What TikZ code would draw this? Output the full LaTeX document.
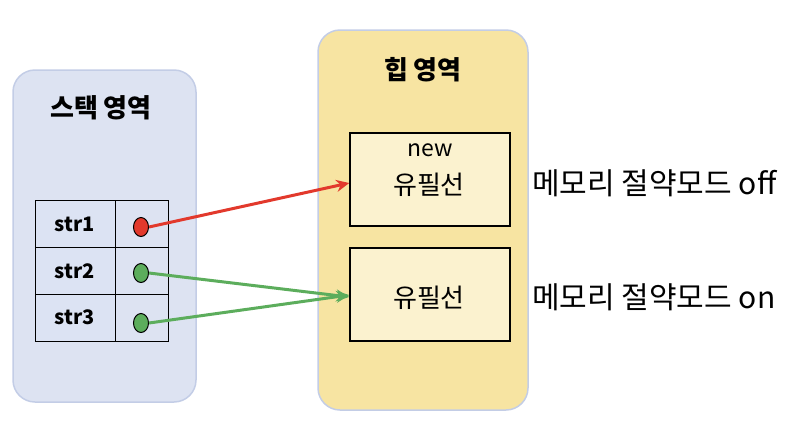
\documentclass[tikz,border=0pt]{standalone}
\usepackage{fontspec}
\setmainfont{Noto Sans CJK KR}
\usetikzlibrary{shapes.geometric,arrows.meta}
\definecolor{stackbg}{HTML}{DDE3F2}
\definecolor{regborder}{HTML}{C3CDE6}
\definecolor{heapbg}{HTML}{F7E4A2}
\definecolor{objbg}{HTML}{FBF2CF}
\definecolor{refred}{HTML}{E2392C}
\definecolor{refgreen}{HTML}{5CAD5C}
\definecolor{cellbg}{HTML}{DCE3F3}
\tikzset{
  region/.style={draw=regborder,line width=1.5pt,rounded corners=22pt},
  cellbox/.style={draw=black,line width=1pt,minimum width=80pt,minimum height=46.7pt,inner sep=0pt,fill=cellbg,font=\fontsize{20}{24}\selectfont\bfseries},
  ptrbox/.style={draw=black,line width=1pt,minimum width=53pt,minimum height=46.7pt,inner sep=0pt},
  dot/.style={ellipse,draw=black,line width=1pt,minimum width=15pt,minimum height=19pt,inner sep=0pt},
  objbox/.style={draw=black,line width=1.5pt,fill=objbg,minimum width=160pt,minimum height=93pt,inner sep=0pt},
  title/.style={font=\fontsize{26}{30}\selectfont\bfseries},
  ref/.style={line width=3pt,-{Stealth[length=13pt,width=12pt]}},
  side/.style={font=\fontsize{30}{34}\selectfont,anchor=west,inner sep=0pt}
}
\begin{document}
\begin{tikzpicture}[x=1pt,y=-1pt]
\useasboundingbox (0,0) rectangle (793,424);
% regions
\draw[region,fill=stackbg] (13,70) rectangle (196,402);
\node[title] (stacktitle) at (101,108) {스택 영역};
\draw[region,fill=heapbg] (318,30) rectangle (528,410);
\node[title] (heaptitle) at (423,70) {힙 영역};
% table
\node[cellbox] (c1) at (75,224.3) {str1};
\node[cellbox] (c2) at (75,271) {str2};
\node[cellbox] (c3) at (75,317.7) {str3};
\node[ptrbox] (p1) at (141.5,224.3) {};
\node[ptrbox] (p2) at (141.5,271) {};
\node[ptrbox] (p3) at (141.5,317.7) {};
\node[dot,fill=refred] (d1) at (141,227) {};
\node[dot,fill=refgreen] (d2) at (141,273) {};
\node[dot,fill=refgreen] (d3) at (141,323) {};
% objects
\node[objbox] (o1) at (430,179.5) {};
\node (newtxt) at (430,150) {\fontsize{23}{26}\selectfont new};
\node (o1txt) at (429,185) {\fontsize{26}{30}\selectfont 유필선};
\node[objbox] (o2) at (430,294.5) {};
\node (o2txt) at (429,298) {\fontsize{26}{30}\selectfont 유필선};
% side labels
\node[side] (offlbl) at (532,183) {메모리 절약모드 off};
\node[side] (onlbl) at (532,297) {메모리 절약모드 on};
% references
\draw[ref,refred] (d1.east) -- (o1.west |- 0,183);
\draw[ref,refgreen] (d2.east) -- (o2.west |- 0,297);
\draw[ref,refgreen] (d3.east) -- (o2.west |- 0,295);
\end{tikzpicture}
\end{document}
